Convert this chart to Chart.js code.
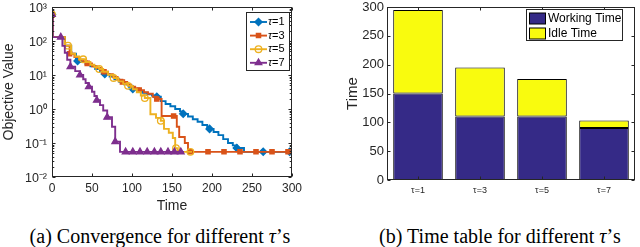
<!DOCTYPE html>
<html><head><meta charset="utf-8">
<script src="https://cdn.jsdelivr.net/npm/chart.js@4.4.0/dist/chart.umd.min.js"></script>
<style>
html,body{margin:0;padding:0;background:#fff;width:640px;height:247px;overflow:hidden;}
#wrapA{position:absolute;left:0;top:0;width:320px;height:216px;}
#wrapB{position:absolute;left:320px;top:0;width:320px;height:216px;}
.cap{position:absolute;top:226px;line-height:20px;font-family:"Liberation Serif","Times New Roman",serif;font-size:20px;color:#000;white-space:nowrap;transform:translateX(-50%);}
</style></head><body>
<div id="wrapA"><canvas id="cA" width="320" height="216"></canvas></div>
<div id="wrapB"><canvas id="cB" width="320" height="216"></canvas></div>
<div class="cap" style="left:160px">(a) Convergence for different <i>τ</i>’s</div>
<div class="cap" style="left:500px">(b) Time table for different <i>τ</i>’s</div>
<script>
// ---------- data: convergence (left) ----------
const seriesNames = ['τ=1', 'τ=3', 'τ=5', 'τ=7'];
const timeTicks = [0, 50, 100, 150, 200, 250, 300];
const decadeTicks = [0.01, 0.1, 1, 10, 100, 1000];
const decadeLabels = ['10⁻²', '10⁻¹', '10⁰', '10¹', '10²', '10³'];

const tau1Steps = [[0,600],[1,130],[16,73],[24,42],[30,26],[36,24],[42,21],[48,18],[54,15],[60,13],[66,10.7],[72,9],[78,7.5],[84,6.3],[90,5.3],[96,4.5],[101,3.9],[107,3.3],[113,3],[119,2.7],[125,2.5],[131,2.3],[136,1.7],[142,1.4],[148,1.2],[154,1.0],[160,0.85],[164,0.72],[170,0.6],[176,0.5],[182,0.42],[188,0.34],[194,0.29],[197,0.26],[202,0.21],[208,0.17],[214,0.13],[220,0.1],[226,0.085],[231,0.071],[240,0.055],[297,0.055]];
const tau1Marks = [0,32,66,101,131,164,197,231,264,297];

const tau3Steps = [[0,600],[1,130],[16,73],[22,42],[28,34],[34,28],[39,25],[44,22],[50,18],[56,16],[61,14],[65,12.4],[70,10.5],[76,8.8],[82,7.3],[88,6.2],[94,5.2],[99,4.5],[104,4],[109,3.6],[115,3.1],[120,2.8],[126,2.3],[131,1.96],[137,0.62],[156,0.3],[159,0.15],[166,0.1],[170,0.055],[300,0.055]];
const tau3Marks = [0,22,44,65,88,109,131,152,173,195,215,235,255,275,295];

const tau5Steps = [[0,600],[1,130],[16,73],[24,42],[29,35],[34,29],[42,24],[48,20],[53,17],[59,15],[64,12.5],[70,10.2],[77,8.2],[83,6.5],[89,5.5],[95,4.8],[101,3.8],[106,3.1],[111,2.5],[116,2.1],[123,0.7],[130,0.55],[136,0.45],[140,0.26],[146,0.2],[151,0.14],[154,0.07],[157,0.055],[175,0.055]];
const tau5Marks = [0,20,39,59,77,95,116,136,155,173];

const tau7Steps = [[0,600],[1,130],[13,72],[16,45],[19,28],[23,17.5],[29,13],[35,10],[39,7.5],[42,5.8],[46,4.5],[50,3.2],[53,2.4],[56,1.8],[60,1.3],[64,0.9],[69,0.57],[75,0.3],[79,0.11],[85,0.055],[165,0.055]];
const tau7Marks = [0,11,23,35,46,56,69,79,92,101,110,119,128,136,145,153,161];

// ---------- data: time table (right) ----------
const barCategories = ['τ=1', 'τ=3', 'τ=5', 'τ=7'];
const workingTime = [150, 110, 110, 90];
const idleTime = [145, 85, 65, 13];
const barTicks = [0, 50, 100, 150, 200, 250, 300];

// ---------- styles ----------
const SANS = '"Liberation Sans", Arial, Helvetica, sans-serif';
const AXIS = '#262626';
const styles = [
  {color:'#0072BD', pointStyle:'rectRot', radius:3.6, fill:'#0072BD'},
  {color:'#D95319', pointStyle:'rect',    radius:3.0, fill:'#D95319'},
  {color:'#EDB120', pointStyle:'circle',  radius:3.3, fill:'rgba(0,0,0,0)'},
  {color:'#7E2F8E', pointStyle:'triangle',radius:3.8, fill:'#7E2F8E'}
];
const allSteps = [tau1Steps, tau3Steps, tau5Steps, tau7Steps];
const allMarks = [tau1Marks, tau3Marks, tau5Marks, tau7Marks];

function valueAt(steps, t) {
  let v = steps[0][1];
  for (const [x, y] of steps) { if (x <= t) v = y; else break; }
  return v;
}

const datasetsA = [];
allSteps.forEach((steps, i) => {
  const st = styles[i];
  const ord = (4 - i) * 2;
  datasetsA.push({
    label: seriesNames[i],
    data: steps.map(([x, y]) => ({x, y})),
    stepped: true, borderColor: st.color, borderWidth: 1.9,
    pointRadius: 0, pointHoverRadius: 0, fill: false, order: ord
  });
  datasetsA.push({
    label: seriesNames[i] + ' markers',
    data: allMarks[i].map(t => ({x: t, y: valueAt(steps, t)})),
    showLine: false, pointStyle: st.pointStyle, pointRadius: st.radius,
    pointBorderColor: st.color, pointBackgroundColor: st.fill,
    pointBorderWidth: 1.3, order: ord - 1
  });
});

function boxAndTicks(ctx, a) {
  ctx.strokeStyle = AXIS; ctx.lineWidth = 1;
  const L = Math.round(a.left) + 0.5, R = Math.round(a.right) - 0.5;
  const T = Math.round(a.top) + 0.5, B = Math.round(a.bottom) - 0.5;
  ctx.strokeRect(L, T, R - L, B - T);
  return {L, R, T, B};
}
const noPadY = s => { s.paddingTop = 0; s.paddingBottom = 0; };
const noPadX = s => { s.paddingLeft = 0; s.paddingRight = 0; };

const axesA = {
  id: 'axesA',
  afterDatasetsDraw(chart) {
    const {ctx, chartArea: a, scales: {x, y}} = chart;
    ctx.save();
    const {L, R, T, B} = boxAndTicks(ctx, a);
    ctx.beginPath();
    timeTicks.forEach(t => {
      const px = Math.round(x.getPixelForValue(t)) + 0.5;
      ctx.moveTo(px, B); ctx.lineTo(px, B - 3);
      ctx.moveTo(px, T); ctx.lineTo(px, T + 3);
    });
    for (let d = -2; d <= 3; d++) {
      const py = Math.round(y.getPixelForValue(Math.pow(10, d))) + 0.5;
      ctx.moveTo(L, py); ctx.lineTo(L + 3, py);
      ctx.moveTo(R, py); ctx.lineTo(R - 3, py);
      if (d < 3) for (let k = 2; k <= 9; k++) {
        const q = Math.round(y.getPixelForValue(k * Math.pow(10, d))) + 0.5;
        ctx.moveTo(L, q); ctx.lineTo(L + 1.8, q);
        ctx.moveTo(R, q); ctx.lineTo(R - 1.8, q);
      }
    }
    ctx.stroke();
    ctx.restore();
  },
  afterDraw(chart) {
    const ctx = chart.ctx;
    ctx.save();
    const bx = 246.5, by = 12.5, bw = 43, bh = 58;
    ctx.fillStyle = '#fff'; ctx.fillRect(bx, by, bw, bh);
    ctx.strokeStyle = AXIS; ctx.lineWidth = 1; ctx.strokeRect(bx, by, bw, bh);
    seriesNames.forEach((name, i) => {
      const st = styles[i];
      const cy = 22 + i * 13.6;
      ctx.strokeStyle = st.color; ctx.lineWidth = 1.9;
      ctx.beginPath(); ctx.moveTo(250, cy); ctx.lineTo(267, cy); ctx.stroke();
      ctx.fillStyle = st.fill; ctx.strokeStyle = st.color; ctx.lineWidth = 1.3;
      Chart.helpers.drawPoint(ctx, {pointStyle: st.pointStyle, radius: st.radius, rotation: 0, borderWidth: 1.3}, 258.5, cy);
      ctx.fillStyle = '#000'; ctx.textBaseline = 'middle'; ctx.textAlign = 'left';
      ctx.font = 'italic 11px ' + SANS;
      ctx.fillText('τ', 268, cy);
      const w = ctx.measureText('τ').width;
      ctx.font = '11px ' + SANS;
      ctx.fillText(name.slice(1), 268 + w, cy);
    });
    ctx.restore();
  }
};

new Chart(document.getElementById('cA'), {
  type: 'line',
  data: {datasets: datasetsA},
  options: {
    responsive: false, animation: false, events: [],
    layout: {padding: {left: 0, top: 7, right: 28, bottom: 0}},
    plugins: {legend: {display: false}, tooltip: {enabled: false}},
    scales: {
      x: {
        type: 'linear', min: 0, max: 300,
        afterBuildTicks: s => { s.ticks = timeTicks.map(v => ({value: v})); },
        afterFit: s => { s.height = 39; noPadX(s); },
        grid: {display: false, drawTicks: false}, border: {display: false},
        ticks: {font: {family: SANS, size: 12}, color: AXIS, padding: 4, maxRotation: 0, autoSkip: false},
        title: {display: true, text: 'Time', font: {family: SANS, size: 14}, color: AXIS, padding: {top: 0, bottom: 1}}
      },
      y: {
        type: 'logarithmic', min: 0.01, max: 1000,
        afterBuildTicks: s => { s.ticks = decadeTicks.map(v => ({value: v})); },
        afterFit: s => { s.width = 52; noPadY(s); },
        grid: {display: false, drawTicks: false}, border: {display: false},
        ticks: {font: {family: SANS, size: 12.5}, color: AXIS, padding: 5, autoSkip: false, labelOffset: 2,
          callback: (v, i) => decadeLabels[i]},
        title: {display: true, text: 'Objective Value', font: {family: SANS, size: 14}, color: AXIS, padding: {top: 1, bottom: 0}}
      }
    }
  },
  plugins: [axesA]
});

// ---------- right chart ----------
const NAVY = '#352a87', YEL = '#f9fb0e';
const axesB = {
  id: 'axesB',
  afterDatasetsDraw(chart) {
    const {ctx, chartArea: a, scales: {x, y}} = chart;
    ctx.save();
    const {L, R, T, B} = boxAndTicks(ctx, a);
    ctx.beginPath();
    barTicks.forEach(v => {
      const py = Math.round(y.getPixelForValue(v)) + 0.5;
      ctx.moveTo(L, py); ctx.lineTo(L + 3, py);
      ctx.moveTo(R, py); ctx.lineTo(R - 3, py);
    });
    barCategories.forEach((c, i) => {
      const px = Math.round(x.getPixelForValue(i)) + 0.5;
      ctx.moveTo(px, B); ctx.lineTo(px, B - 3);
      ctx.moveTo(px, T); ctx.lineTo(px, T + 3);
    });
    ctx.stroke();
    ctx.restore();
  },
  afterDraw(chart) {
    const ctx = chart.ctx;
    ctx.save();
    const bx = 206.5, by = 9.5, bw = 96, bh = 31;
    ctx.fillStyle = '#fff'; ctx.fillRect(bx, by, bw, bh);
    ctx.strokeStyle = AXIS; ctx.lineWidth = 1; ctx.strokeRect(bx, by, bw, bh);
    const items = [['Working Time', NAVY], ['Idle Time', YEL]];
    items.forEach(([t, c], i) => {
      const cy = 18.5 + i * 15;
      ctx.fillStyle = c; ctx.fillRect(209.5, cy - 5.5, 16, 11);
      ctx.strokeStyle = '#000'; ctx.strokeRect(209.5, cy - 5.5, 16, 11);
      ctx.fillStyle = '#000'; ctx.font = '12px ' + SANS;
      ctx.textBaseline = 'middle'; ctx.textAlign = 'left';
      ctx.fillText(t, 228, cy + 0.5);
    });
    ctx.restore();
  }
};

new Chart(document.getElementById('cB'), {
  type: 'bar',
  data: {
    labels: barCategories,
    datasets: [
      {label: 'Working Time', data: workingTime, backgroundColor: NAVY, borderColor: '#000', borderWidth: 1, borderSkipped: false},
      {label: 'Idle Time', data: idleTime, backgroundColor: YEL, borderColor: '#000', borderWidth: 1, borderSkipped: false}
    ]
  },
  options: {
    responsive: false, animation: false, events: [],
    layout: {padding: {left: 0, top: 7, right: 5, bottom: 0}},
    plugins: {legend: {display: false}, tooltip: {enabled: false}},
    datasets: {bar: {categoryPercentage: 0.8, barPercentage: 1}},
    scales: {
      x: {
        stacked: true,
        afterFit: s => { s.height = 36; noPadX(s); },
        grid: {display: false, drawTicks: false}, border: {display: false},
        ticks: {font: {family: SANS, size: 9}, color: AXIS, padding: 5, maxRotation: 0}
      },
      y: {
        stacked: true, min: 0, max: 300,
        afterBuildTicks: s => { s.ticks = barTicks.map(v => ({value: v})); },
        afterFit: s => { s.width = 67; noPadY(s); },
        grid: {display: false, drawTicks: false}, border: {display: false},
        ticks: {font: {family: SANS, size: 13}, color: AXIS, padding: 3},
        title: {display: true, text: 'Time', font: {family: SANS, size: 15}, color: AXIS, padding: {top: 24, bottom: 0}}
      }
    }
  },
  plugins: [axesB]
});
</script>
</body></html>
